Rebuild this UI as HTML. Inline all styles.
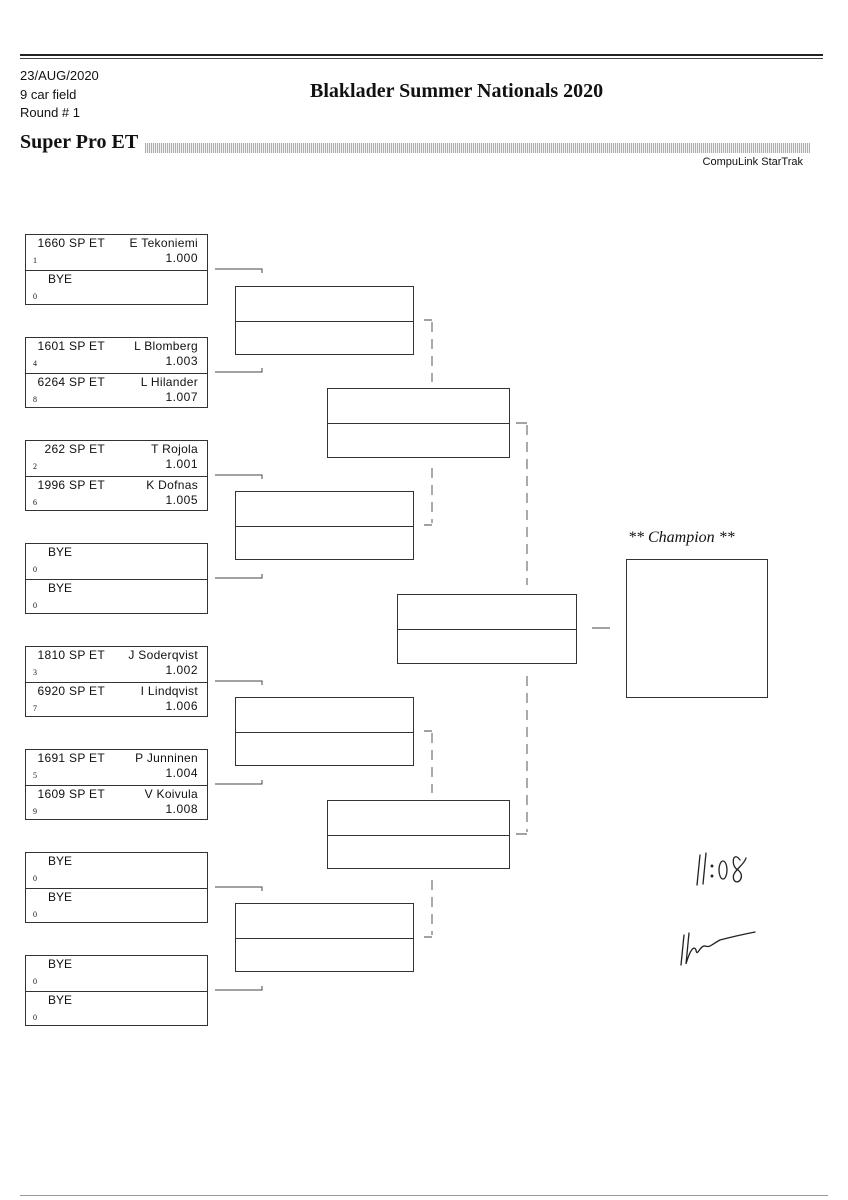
<!DOCTYPE html>
<html><head><meta charset="utf-8"><style>
html,body{margin:0;padding:0;background:#fff;}
body{width:848px;height:1200px;position:relative;overflow:hidden;font-family:"Liberation Sans",sans-serif;color:#111;}
.a{position:absolute;}
.pair{position:absolute;left:25px;width:181px;height:69px;border:1px solid #333;}
.row{position:absolute;left:0;width:181px;height:35px;}
.row2{top:35px;border-top:1px solid #333;height:34px;}
.num{position:absolute;left:0;width:79px;text-align:right;top:1px;font-size:12px;letter-spacing:0.3px;}
.nm{position:absolute;right:9px;top:1px;font-size:12px;letter-spacing:0.3px;}
.et{position:absolute;right:9px;top:16px;font-size:12px;letter-spacing:0.5px;}
.bye{position:absolute;left:22px;top:1px;font-size:12px;}
.sd{position:absolute;left:7px;top:21px;font-family:"Liberation Serif",serif;font-size:8px;}
.box{position:absolute;border:1px solid #333;}
.box::after{content:"";position:absolute;left:0;right:0;top:50%;border-top:1px solid #333;}
</style></head><body>
<div class="a" style="left:20px;top:54px;width:803px;border-top:2px solid #222;"></div>
<div class="a" style="left:20px;top:58px;width:803px;border-top:1px solid #444;"></div>
<div class="a" style="left:20px;top:67px;font-size:13px;line-height:18.5px;">23/AUG/2020<br>9 car field<br>Round # 1</div>
<div class="a" style="left:310px;top:80px;font-family:'Liberation Serif',serif;font-weight:bold;font-size:20px;">Blaklader Summer Nationals 2020</div>
<div class="a" style="left:20px;top:131px;font-family:'Liberation Serif',serif;font-weight:bold;font-size:20px;">Super Pro ET</div>
<div class="a" style="left:145px;top:143px;width:665px;height:10px;background:repeating-linear-gradient(90deg,#999 0 1px,#eee 1px 2px);opacity:.8;"></div>
<div class="a" style="right:45px;top:156px;font-size:11px;">CompuLink StarTrak</div>

<div class="pair" style="top:234px"><div class="row"><span class="num">1660 SP ET</span><span class="nm">E Tekoniemi</span><span class="sd">1</span><span class="et">1.000</span></div><div class="row row2"><span class="bye">BYE</span><span class="sd">0</span></div></div>
<div class="pair" style="top:337px"><div class="row"><span class="num">1601 SP ET</span><span class="nm">L Blomberg</span><span class="sd">4</span><span class="et">1.003</span></div><div class="row row2"><span class="num">6264 SP ET</span><span class="nm">L Hilander</span><span class="sd">8</span><span class="et">1.007</span></div></div>
<div class="pair" style="top:440px"><div class="row"><span class="num">262 SP ET</span><span class="nm">T Rojola</span><span class="sd">2</span><span class="et">1.001</span></div><div class="row row2"><span class="num">1996 SP ET</span><span class="nm">K Dofnas</span><span class="sd">6</span><span class="et">1.005</span></div></div>
<div class="pair" style="top:543px"><div class="row"><span class="bye">BYE</span><span class="sd">0</span></div><div class="row row2"><span class="bye">BYE</span><span class="sd">0</span></div></div>
<div class="pair" style="top:646px"><div class="row"><span class="num">1810 SP ET</span><span class="nm">J Soderqvist</span><span class="sd">3</span><span class="et">1.002</span></div><div class="row row2"><span class="num">6920 SP ET</span><span class="nm">I Lindqvist</span><span class="sd">7</span><span class="et">1.006</span></div></div>
<div class="pair" style="top:749px"><div class="row"><span class="num">1691 SP ET</span><span class="nm">P Junninen</span><span class="sd">5</span><span class="et">1.004</span></div><div class="row row2"><span class="num">1609 SP ET</span><span class="nm">V Koivula</span><span class="sd">9</span><span class="et">1.008</span></div></div>
<div class="pair" style="top:852px"><div class="row"><span class="bye">BYE</span><span class="sd">0</span></div><div class="row row2"><span class="bye">BYE</span><span class="sd">0</span></div></div>
<div class="pair" style="top:955px"><div class="row"><span class="bye">BYE</span><span class="sd">0</span></div><div class="row row2"><span class="bye">BYE</span><span class="sd">0</span></div></div>

<div class="box" style="left:235px;top:286px;width:177px;height:67px"></div>
<div class="box" style="left:235px;top:491px;width:177px;height:67px"></div>
<div class="box" style="left:235px;top:697px;width:177px;height:67px"></div>
<div class="box" style="left:235px;top:903px;width:177px;height:67px"></div>
<div class="box" style="left:327px;top:388px;width:181px;height:68px"></div>
<div class="box" style="left:327px;top:800px;width:181px;height:67px"></div>
<div class="box" style="left:397px;top:594px;width:178px;height:68px"></div>
<div class="a" style="left:626px;top:559px;width:140px;height:137px;border:1px solid #333;"></div>
<div class="a" style="left:628px;top:529px;font-family:'Liberation Serif',serif;font-style:italic;font-size:16px;">** Champion **</div>

<svg class="a" style="left:0;top:0" width="848" height="1200">
<g stroke="#444" stroke-width="1" fill="none">
<path d="M215 269H262V273M215 372H262V368M215 475H262V479M215 578H262V574M215 681H262V685M215 784H262V780M215 887H262V891M215 990H262V986"/>
<path d="M424 320H432M424 525H432M424 731H432M424 937H432M516 423H527M516 834H527M592 628H610"/>
</g>
<g stroke="#555" stroke-width="1" stroke-dasharray="10 7" fill="none">
<path d="M432 322V382M432 468V523M432 733V793M432 880V935M527 425V585M527 676V832"/>
</g>
<g stroke="#222" stroke-width="1.3" fill="none" stroke-linecap="round">
<path d="M700 855L697 885M706 853L703 884"/>
<circle cx="712" cy="866" r="0.8"/><circle cx="712" cy="876" r="0.8"/>
<ellipse cx="723" cy="870" rx="4" ry="9"/>
<path d="M740 860C733 850 730 866 738 870C746 876 738 886 734 880C730 872 744 866 746 858"/>
<path d="M684 935L681 965M689 933L686 964C690 950 694 945 696 950C697 958 700 945 705 946C710 948 712 944 720 940C735 936 745 934 755 932"/>
</g>
</svg>
<div class="a" style="left:20px;top:1195px;width:808px;border-top:1px solid #999;"></div>
</body></html>
